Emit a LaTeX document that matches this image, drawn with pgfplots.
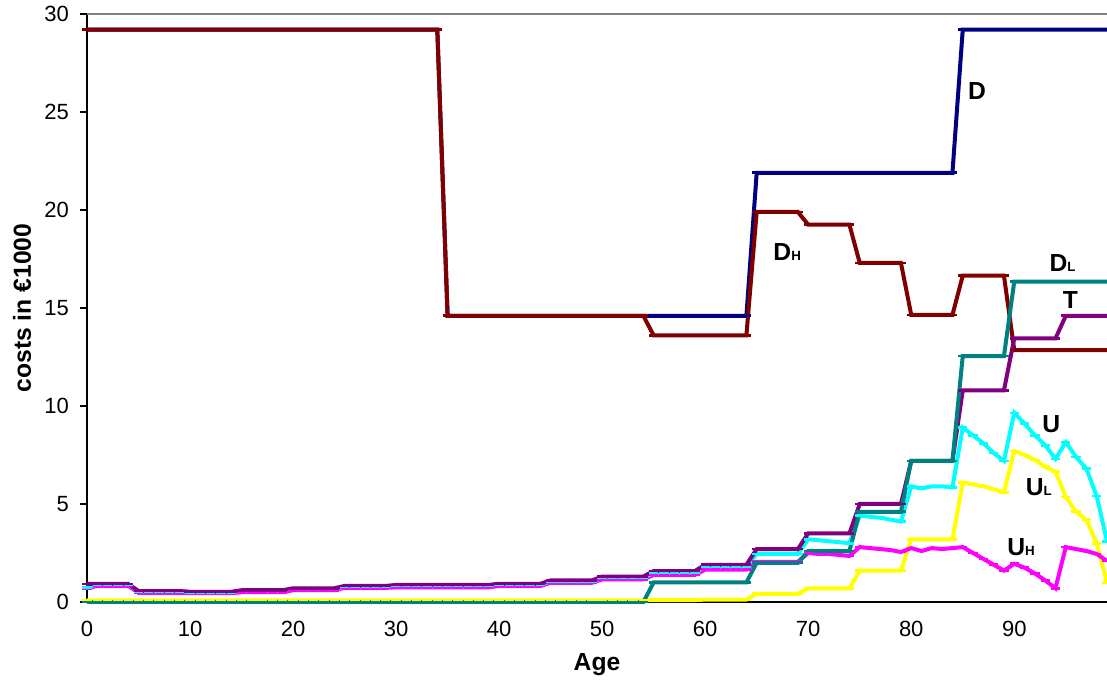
\documentclass[border=0pt]{standalone}
\usepackage{fontspec}
\setmainfont{Liberation Sans}
\usepackage{pgfplots}
\usepackage{pgfplotstable}
\pgfplotsset{compat=1.18}
\definecolor{cD}{HTML}{000080}
\definecolor{cDH}{HTML}{800000}
\definecolor{cDL}{HTML}{008080}
\definecolor{cT}{HTML}{800080}
\definecolor{cU}{HTML}{00FFFF}
\definecolor{cUL}{HTML}{FFFF00}
\definecolor{cUH}{HTML}{FF00FF}
\pgfplotstableread{
a D DH DL T U UL UH
0 29.2 29.2 0 0.92 0.75 0.08 0.70
1 29.2 29.2 0 0.92 0.90 0.08 0.82
2 29.2 29.2 0 0.92 0.90 0.08 0.82
3 29.2 29.2 0 0.92 0.90 0.08 0.82
4 29.2 29.2 0 0.92 0.90 0.08 0.82
5 29.2 29.2 0 0.56 0.53 0.08 0.47
6 29.2 29.2 0 0.56 0.53 0.08 0.47
7 29.2 29.2 0 0.56 0.53 0.08 0.47
8 29.2 29.2 0 0.56 0.53 0.08 0.47
9 29.2 29.2 0 0.56 0.53 0.08 0.47
10 29.2 29.2 0 0.52 0.50 0.08 0.45
11 29.2 29.2 0 0.52 0.50 0.08 0.45
12 29.2 29.2 0 0.52 0.50 0.08 0.45
13 29.2 29.2 0 0.52 0.50 0.08 0.45
14 29.2 29.2 0 0.52 0.50 0.08 0.45
15 29.2 29.2 0 0.60 0.57 0.08 0.50
16 29.2 29.2 0 0.60 0.57 0.08 0.50
17 29.2 29.2 0 0.60 0.57 0.08 0.50
18 29.2 29.2 0 0.60 0.57 0.08 0.50
19 29.2 29.2 0 0.60 0.57 0.08 0.50
20 29.2 29.2 0 0.70 0.67 0.08 0.60
21 29.2 29.2 0 0.70 0.67 0.08 0.60
22 29.2 29.2 0 0.70 0.67 0.08 0.60
23 29.2 29.2 0 0.70 0.67 0.08 0.60
24 29.2 29.2 0 0.70 0.67 0.08 0.60
25 29.2 29.2 0 0.82 0.78 0.08 0.72
26 29.2 29.2 0 0.82 0.78 0.08 0.72
27 29.2 29.2 0 0.82 0.78 0.08 0.72
28 29.2 29.2 0 0.82 0.78 0.08 0.72
29 29.2 29.2 0 0.82 0.78 0.08 0.72
30 29.2 29.2 0 0.87 0.83 0.08 0.75
31 29.2 29.2 0 0.87 0.83 0.08 0.75
32 29.2 29.2 0 0.87 0.83 0.08 0.75
33 29.2 29.2 0 0.87 0.83 0.08 0.75
34 29.2 29.2 0 0.87 0.83 0.08 0.75
35 14.6 14.6 0 0.87 0.83 0.08 0.75
36 14.6 14.6 0 0.87 0.83 0.08 0.75
37 14.6 14.6 0 0.87 0.83 0.08 0.75
38 14.6 14.6 0 0.87 0.83 0.08 0.75
39 14.6 14.6 0 0.87 0.83 0.08 0.75
40 14.6 14.6 0 0.93 0.90 0.08 0.82
41 14.6 14.6 0 0.93 0.90 0.08 0.82
42 14.6 14.6 0 0.93 0.90 0.08 0.82
43 14.6 14.6 0 0.93 0.90 0.08 0.82
44 14.6 14.6 0 0.93 0.90 0.08 0.82
45 14.6 14.6 0 1.10 1.05 0.08 0.98
46 14.6 14.6 0 1.10 1.05 0.08 0.98
47 14.6 14.6 0 1.10 1.05 0.08 0.98
48 14.6 14.6 0 1.10 1.05 0.08 0.98
49 14.6 14.6 0 1.10 1.05 0.08 0.98
50 14.6 14.6 0 1.30 1.25 0.08 1.15
51 14.6 14.6 0 1.30 1.25 0.08 1.15
52 14.6 14.6 0 1.30 1.25 0.08 1.15
53 14.6 14.6 0 1.30 1.25 0.08 1.15
54 14.6 14.6 0 1.30 1.25 0.08 1.15
55 14.6 13.6 1.0 1.58 1.48 0.10 1.38
56 14.6 13.6 1.0 1.58 1.48 0.10 1.38
57 14.6 13.6 1.0 1.58 1.48 0.10 1.38
58 14.6 13.6 1.0 1.58 1.48 0.10 1.38
59 14.6 13.6 1.0 1.58 1.48 0.10 1.38
60 14.6 13.6 1.0 1.90 1.80 0.12 1.65
61 14.6 13.6 1.0 1.90 1.80 0.12 1.65
62 14.6 13.6 1.0 1.90 1.80 0.12 1.65
63 14.6 13.6 1.0 1.90 1.80 0.12 1.65
64 14.6 13.6 1.0 1.90 1.80 0.12 1.65
65 21.9 19.9 2.0 2.70 2.45 0.42 2.05
66 21.9 19.9 2.0 2.70 2.45 0.42 2.05
67 21.9 19.9 2.0 2.70 2.45 0.42 2.05
68 21.9 19.9 2.0 2.70 2.45 0.42 2.05
69 21.9 19.9 2.0 2.70 2.45 0.42 2.05
70 21.9 19.25 2.6 3.5 3.20 0.7 2.50
71 21.9 19.25 2.6 3.5 3.15 0.7 2.45
72 21.9 19.25 2.6 3.5 3.10 0.7 2.45
73 21.9 19.25 2.6 3.5 3.05 0.7 2.40
74 21.9 19.25 2.6 3.5 3.00 0.7 2.35
75 21.9 17.3 4.6 5.0 4.40 1.6 2.80
76 21.9 17.3 4.6 5.0 4.35 1.6 2.75
77 21.9 17.3 4.6 5.0 4.30 1.6 2.70
78 21.9 17.3 4.6 5.0 4.20 1.6 2.65
79 21.9 17.3 4.6 5.0 4.10 1.6 2.55
80 21.9 14.65 7.2 7.2 5.90 3.2 2.75
81 21.9 14.65 7.2 7.2 5.80 3.2 2.60
82 21.9 14.65 7.2 7.2 5.90 3.2 2.75
83 21.9 14.65 7.2 7.2 5.90 3.2 2.70
84 21.9 14.65 7.2 7.2 5.85 3.2 2.75
85 29.2 16.65 12.55 10.8 8.90 6.10 2.80
86 29.2 16.65 12.55 10.8 8.50 6.00 2.50
87 29.2 16.65 12.55 10.8 8.10 5.90 2.20
88 29.2 16.65 12.55 10.8 7.60 5.75 1.90
89 29.2 16.65 12.55 10.8 7.20 5.60 1.60
90 29.2 12.85 16.35 13.45 9.65 7.70 1.95
91 29.2 12.85 16.35 13.45 9.10 7.50 1.75
92 29.2 12.85 16.35 13.45 8.50 7.25 1.45
93 29.2 12.85 16.35 13.45 8.00 6.90 1.10
94 29.2 12.85 16.35 13.45 7.30 6.65 0.70
95 29.2 12.85 16.35 14.6 8.15 5.35 2.80
96 29.2 12.85 16.35 14.6 7.40 4.60 2.70
97 29.2 12.85 16.35 14.6 6.80 4.20 2.60
98 29.2 12.85 16.35 14.6 5.40 3.00 2.45
99 29.2 12.85 16.35 14.6 3.10 1.00 2.10
}\data
\tikzset{lab/.style={font=\fontsize{18.5}{20}\selectfont\bfseries, inner sep=0pt, anchor=base west}}
\newcommand{\sub}[1]{{\fontsize{10}{11}\selectfont #1}}
\begin{document}
\begin{tikzpicture}
\begin{axis}[
  at={(0,0)}, anchor=south west,
  scale only axis, width=765pt, height=441pt,
  xmin=0, xmax=99, ymin=0, ymax=30,
  clip=false,
  axis x line*=bottom, axis y line*=left,
  axis line style={-, black, line width=0.8pt},
  xtick={0,10,...,90}, ytick={0,5,...,30},
  xtick style={draw=none},
  ytick style={black, line width=0.8pt},
  tick align=outside, major tick length=5pt,
  /pgf/number format/assume math mode=true,
  tick label style={font=\fontsize{16.5}{18}\selectfont},
  yticklabel style={xshift=-5pt},
  xticklabel style={yshift=-6pt},
  xlabel={Age}, ylabel={costs in €1000},
  label style={font=\fontsize{18.5}{20}\selectfont\bfseries},
  xlabel style={at={(axis description cs:0.5,0)}, anchor=center, yshift=-47.25pt},
  ylabel style={at={(axis description cs:-0.0637,0.5)}, anchor=center},
  every axis plot/.append style={line width=3pt, mark=-, mark size=3.5pt, mark options={line width=2pt}},
]
\draw[gray, line width=0.8pt] (rel axis cs:0,1) -- (rel axis cs:1,1);
\addplot[cD] table[x=a,y=D]{\data};
\addplot[cDH] table[x=a,y=DH]{\data};
\addplot[cUL] table[x=a,y=UL]{\data};
\addplot[cUH] table[x=a,y=UH]{\data};
\addplot[cU] table[x=a,y=U]{\data};
\addplot[cT] table[x=a,y=T]{\data};
\addplot[cDL] table[x=a,y=DL]{\data};
\node[lab] at (axis cs:85.5,25.66) {D};
\node[lab] at (axis cs:66.6,17.4) {D\sub{H}};
\node[lab] at (axis cs:93.4,16.84) {D\sub{L}};
\node[lab] at (axis cs:94.7,14.95) {T};
\node[lab] at (axis cs:92.7,8.67) {U};
\node[lab] at (axis cs:91.1,5.41) {U\sub{L}};
\node[lab] at (axis cs:89.3,2.35) {U\sub{H}};
\end{axis}
\pgfresetboundingbox
\path (-65.25pt,-58.5pt) rectangle (765pt,451.5pt);
\end{tikzpicture}
\end{document}
